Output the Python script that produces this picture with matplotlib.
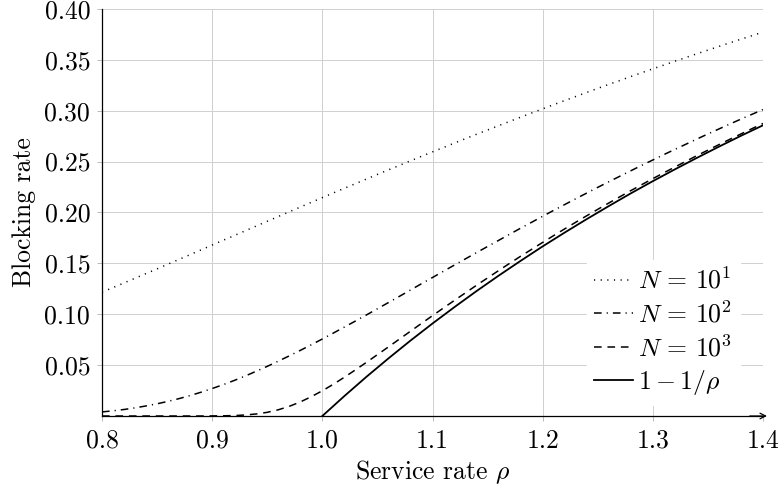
import matplotlib
matplotlib.use("Agg")
import matplotlib.pyplot as plt

plt.rcParams['mathtext.fontset'] = 'cm'
plt.rcParams['font.family'] = ['cmr10', 'DejaVu Serif']
plt.rcParams['axes.unicode_minus'] = False

# Service rate rho (step 0.01 from 0.80 to 1.40)
rho = [round(0.80 + 0.01 * i, 2) for i in range(61)]

block_n10 = [0.1217, 0.1262, 0.1308, 0.1354, 0.1400, 0.1446, 0.1493, 0.1539, 0.1586, 0.1633,
             0.1680, 0.1727, 0.1773, 0.1820, 0.1867, 0.1914, 0.1960, 0.2007, 0.2053, 0.2100,
             0.2146, 0.2192, 0.2238, 0.2283, 0.2329, 0.2374, 0.2419, 0.2463, 0.2508, 0.2552,
             0.2596, 0.2639, 0.2683, 0.2726, 0.2769, 0.2811, 0.2853, 0.2895, 0.2937, 0.2978,
             0.3019, 0.3060, 0.3100, 0.3140, 0.3180, 0.3220, 0.3259, 0.3297, 0.3336, 0.3374,
             0.3412, 0.3449, 0.3487, 0.3523, 0.3560, 0.3596, 0.3632, 0.3668, 0.3703, 0.3738,
             0.3773]
block_n100 = [0.0040, 0.0051, 0.0064, 0.0080, 0.0099, 0.0120, 0.0144, 0.0171, 0.0201, 0.0234,
              0.0270, 0.0308, 0.0349, 0.0393, 0.0440, 0.0488, 0.0539, 0.0591, 0.0645, 0.0700,
              0.0757, 0.0815, 0.0874, 0.0933, 0.0993, 0.1054, 0.1115, 0.1176, 0.1238, 0.1300,
              0.1361, 0.1423, 0.1484, 0.1545, 0.1606, 0.1666, 0.1726, 0.1786, 0.1846, 0.1904,
              0.1963, 0.2021, 0.2078, 0.2135, 0.2191, 0.2247, 0.2302, 0.2356, 0.2410, 0.2464,
              0.2516, 0.2569, 0.2620, 0.2671, 0.2722, 0.2772, 0.2821, 0.2870, 0.2918, 0.2965,
              0.3012]
block_n1000 = [0.0000, 0.0000, 0.0000, 0.0000, 0.0000, 0.0000, 0.0000, 0.0000, 0.0000, 0.0000,
               0.0001, 0.0002, 0.0004, 0.0010, 0.0020, 0.0036, 0.0061, 0.0095, 0.0138, 0.0190,
               0.0248, 0.0312, 0.0381, 0.0453, 0.0527, 0.0603, 0.0679, 0.0756, 0.0833, 0.0910,
               0.0986, 0.1062, 0.1137, 0.1211, 0.1285, 0.1357, 0.1429, 0.1500, 0.1570, 0.1638,
               0.1706, 0.1773, 0.1839, 0.1904, 0.1968, 0.2031, 0.2093, 0.2154, 0.2215, 0.2274,
               0.2333, 0.2390, 0.2447, 0.2503, 0.2559, 0.2613, 0.2667, 0.2720, 0.2772, 0.2824,
               0.2875]
# limit curve 1 - 1/rho, for rho from 1.00 to 1.40
rho_limit = [1.00, 1.02, 1.04, 1.06, 1.08, 1.10, 1.12, 1.14, 1.16, 1.18, 1.20,
             1.22, 1.24, 1.26, 1.28, 1.30, 1.32, 1.34, 1.36, 1.38, 1.40]
block_limit = [0.0000, 0.0196, 0.0385, 0.0566, 0.0741, 0.0909, 0.1071, 0.1228, 0.1379, 0.1525, 0.1667,
               0.1803, 0.1935, 0.2063, 0.2188, 0.2308, 0.2424, 0.2537, 0.2647, 0.2754, 0.2857]

labels = [r'$N\,=\,10^1$', r'$N\,=\,10^2$', r'$N\,=\,10^3$', r'$1-1/\rho$']
x_ticks = [0.8, 0.9, 1.0, 1.1, 1.2, 1.3, 1.4]
x_ticklabels = ['0.8', '0.9', '1.0', '1.1', '1.2', '1.3', '1.4']
y_ticks = [0.05, 0.10, 0.15, 0.20, 0.25, 0.30, 0.35, 0.40]
y_ticklabels = ['0.05', '0.10', '0.15', '0.20', '0.25', '0.30', '0.35', '0.40']

FS = 18.5
W, H = 783, 490
fig = plt.figure(figsize=(W / 100, H / 100), dpi=100)
ax = fig.add_axes([102 / W, (H - 416) / H, 661 / W, 407 / H])

lw = 1.1
ax.plot(rho, block_n10, color='black', lw=lw, linestyle=(0, (0.75, 3.6)), dash_capstyle='butt', label=labels[0])
ax.plot(rho, block_n100, color='black', lw=lw, linestyle=(0, (5.0, 3.3, 0.75, 3.3)), dash_capstyle='butt', label=labels[1])
ax.plot(rho, block_n1000, color='black', lw=lw, linestyle=(0, (5.0, 3.8)), dash_capstyle='butt', label=labels[2])
ax.plot(rho_limit, block_limit, color='black', lw=1.3, linestyle='-', label=labels[3])

ax.set_xlim(0.8, 1.4)
ax.set_ylim(0.0, 0.40)
ax.set_xticks(x_ticks)
ax.set_xticklabels(x_ticklabels, fontsize=FS)
ax.set_yticks(y_ticks)
ax.set_yticklabels(y_ticklabels, fontsize=FS)
ax.tick_params(axis='both', direction='out', length=3.5, width=0.6, color='#b0b0b0', pad=5)
ax.tick_params(axis='x', pad=6)

ax.grid(True, color='#cfcfcf', linewidth=0.7)
ax.set_axisbelow(True)
for s in ['top', 'right']:
    ax.spines[s].set_visible(False)
for s in ['left', 'bottom']:
    ax.spines[s].set_linewidth(0.9)
    ax.spines[s].set_color('black')
    ax.spines[s].set_zorder(3)

ax.annotate('', xy=(1.006, 0), xytext=(0.98, 0), xycoords='axes fraction',
            arrowprops=dict(arrowstyle='->', lw=0.9, color='black', shrinkA=0, shrinkB=0,
                            mutation_scale=10), annotation_clip=False)

ax.set_xlabel(r'Service rate $\rho$', fontsize=FS, labelpad=4)
ax.set_ylabel('Blocking rate', fontsize=FS, labelpad=6)

leg = ax.legend(loc='lower right', bbox_to_anchor=(0.965, 0.027), borderaxespad=0,
                fontsize=FS, frameon=True, fancybox=False, framealpha=1.0,
                facecolor='white', edgecolor='white', handlelength=1.5,
                handletextpad=0.2, labelspacing=0.28, borderpad=0.3)
leg.set_zorder(5)

fig.savefig('out.png', dpi=100)
